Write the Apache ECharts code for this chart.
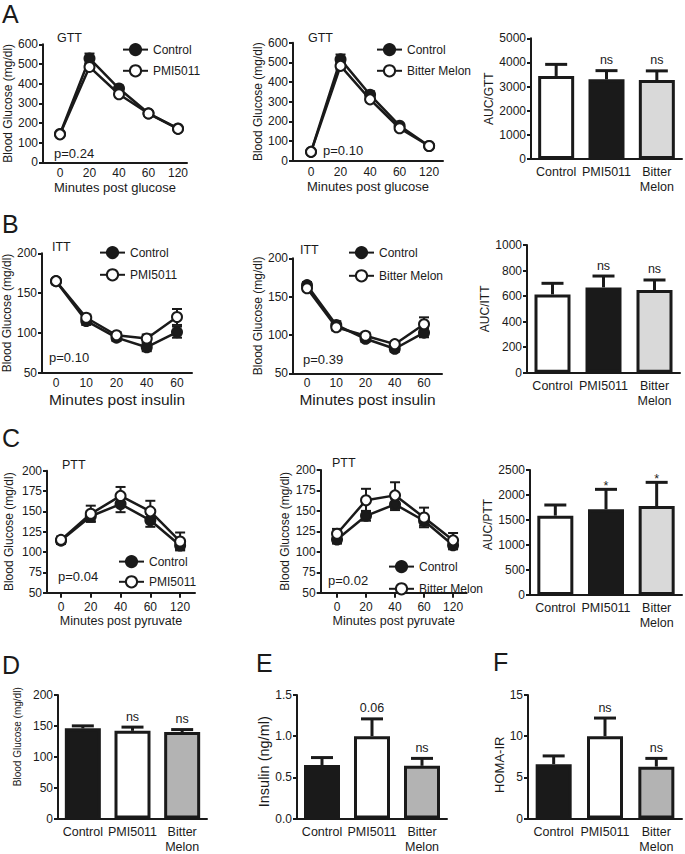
<!DOCTYPE html>
<html><head><meta charset="utf-8">
<script src="https://cdn.jsdelivr.net/npm/echarts@6/dist/echarts.min.js"></script>
<style>html,body{margin:0;padding:0;background:#fff}#c{width:685px;height:854px}</style>
</head><body><div id="c"></div>
<script>
const FONT = '"Liberation Sans", Arial, Helvetica, sans-serif';
const INK = '#1a1a1a';

// ---------------- data ----------------
const gttMinutes = ['0', '20', '40', '60', '120'];
const ittMinutes = ['0', '10', '20', '40', '60'];
const pttMinutes = ['0', '20', '40', '60', '120'];
const groupLabels = ['Control', 'PMI5011', 'Bitter\nMelon'];

const gttControlA = [144, 528, 375, 249, 172];
const gttControlAErr = [8, 25, 15, 8, 8];
const gttPmi = [142, 485, 346, 248, 170];
const gttPmiErr = [8, 18, 12, 8, 8];
const gttControlB = [45, 515, 335, 178, 75];
const gttControlBErr = [8, 25, 18, 10, 8];
const gttBitter = [45, 482, 312, 165, 75];
const gttBitterErr = [8, 18, 12, 8, 8];

const ittControlA = [165, 115, 94, 82, 101];
const ittControlAErr = [3, 5, 4, 5, 7];
const ittPmi = [165, 119, 97, 93, 120];
const ittPmiErr = [3, 4, 4, 5, 10];
const ittControlB = [165, 113, 95, 82, 103];
const ittControlBErr = [4, 5, 4, 4, 6];
const ittBitter = [161, 110, 99, 88, 114];
const ittBitterErr = [3, 4, 4, 3, 9];

const pttControlA = [114, 144, 159, 139, 108];
const pttControlAErr = [4, 6, 10, 8, 5];
const pttPmi = [115, 147, 169, 150, 113];
const pttPmiErr = [4, 10, 11, 13, 11];
const pttControlB = [115, 144, 158, 138, 108];
const pttControlBErr = [5, 6, 7, 6, 5];
const pttBitter = [122, 163, 169, 142, 114];
const pttBitterErr = [6, 14, 16, 12, 9];

const aucGtt = [3440, 3300, 3270];
const aucGttErr = [480, 360, 380];
const aucGttSig = ['', 'ns', 'ns'];
const aucItt = [613, 668, 647];
const aucIttErr = [87, 89, 79];
const aucIttSig = ['', 'ns', 'ns'];
const aucPtt = [1587, 1713, 1780];
const aucPttErr = [213, 400, 473];
const aucPttSig = ['', '*', '*'];
const fastingGlucose = [146, 142, 140];
const fastingGlucoseErr = [4, 6, 4];
const fastingGlucoseSig = ['', 'ns', 'ns'];
const insulin = [0.65, 1.0, 0.64];
const insulinErr = [0.09, 0.21, 0.09];
const insulinSig = ['', '0.06', 'ns'];
const homaIR = [6.6, 10.0, 6.3];
const homaIRErr = [1.0, 2.2, 1.0];
const homaIRSig = ['', 'ns', 'ns'];

const panelLetters = ['A', 'B', 'C', 'D', 'E', 'F'];
const testTitles = ['GTT', 'GTT', 'ITT', 'ITT', 'PTT', 'PTT'];
const pValues = ['p=0.24', 'p=0.10', 'p=0.10', 'p=0.39', 'p=0.04', 'p=0.02'];

// ---------------- layout ----------------
const letterPos = [[2, 14], [2, 224], [2, 438], [2, 665], [256, 663], [493, 662]];
const titlePos = [[57, 38], [308, 38], [52, 247], [300, 250], [62, 465], [332, 463]];
const pPos = [[54, 153], [323, 150], [49, 357], [303, 359], [58, 576], [328, 580]];

const fillsLight = ['#ffffff', INK, '#d9d9d9'];
const fillsDark = [INK, '#ffffff', '#b3b3b3'];

const linePanels = [
  {grid: [43, 44.3, 144, 118], xMin: -0.576, xMax: 4.305, cats: gttMinutes, yMin: 0, yMax: 600, yInt: 100,
   yName: 'Blood Glucose (mg/dl)', yGap: 29.5, xName: 'Minutes post glucose', xNameSize: 13, xGap: 18, xLabelMargin: 4, xTicks: false,
   ctrl: gttControlA, ctrlErr: gttControlAErr, trt: gttPmi, trtErr: gttPmiErr, trtName: 'PMI5011', legend: [122, 43, 8]},
  {grid: [293, 42.7, 150, 118], xMin: -0.61, xMax: 4.47, cats: gttMinutes, yMin: 0, yMax: 600, yInt: 100,
   yName: 'Blood Glucose (mg/dl)', yGap: 24.5, xName: 'Minutes post glucose', xNameSize: 13, xGap: 19.5, xLabelMargin: 4, xTicks: false,
   ctrl: gttControlB, ctrlErr: gttControlBErr, trt: gttBitter, trtErr: gttBitterErr, trtName: 'Bitter Melon', legend: [376, 43, 8]},
  {grid: [42, 253.3, 150, 119.4], xMin: -0.463, xMax: 4.496, cats: ittMinutes, yMin: 50, yMax: 200, yInt: 50,
   yName: 'Blood Glucose (mg/dl)', yGap: 28.5, xName: 'Minutes post insulin', xNameSize: 15.5, xGap: 19, xLabelMargin: 3, xTicks: false,
   ctrl: ittControlA, ctrlErr: ittControlAErr, trt: ittPmi, trtErr: ittPmiErr, trtName: 'PMI5011', legend: [99, 246, 9]},
  {grid: [293, 258.3, 149, 115], xMin: -0.479, xMax: 4.615, cats: ittMinutes, yMin: 50, yMax: 200, yInt: 50,
   yName: 'Blood Glucose (mg/dl)', yGap: 27.5, xName: 'Minutes post insulin', xNameSize: 15.5, xGap: 18.5, xLabelMargin: 3, xTicks: false,
   ctrl: ittControlB, ctrlErr: ittControlBErr, trt: ittBitter, trtErr: ittBitterErr, trtName: 'Bitter Melon', legend: [348, 246, 10]},
  {grid: [47, 470.7, 148, 122], xMin: -0.47, xMax: 4.5, cats: pttMinutes, yMin: 50, yMax: 200, yInt: 25,
   yName: 'Blood Glucose (mg/dl)', yGap: 32.5, xName: 'Minutes post pyruvate', xNameSize: 12.5, xGap: 22, xLabelMargin: 7, xTicks: true,
   ctrl: pttControlA, ctrlErr: pttControlAErr, trt: pttPmi, trtErr: pttPmiErr, trtName: 'PMI5011', legend: [118, 555, 7]},
  {grid: [320.7, 470, 146, 122.7], xMin: -0.562, xMax: 4.47, cats: pttMinutes, yMin: 50, yMax: 200, yInt: 25,
   yName: 'Blood Glucose (mg/dl)', yGap: 30, xName: 'Minutes post pyruvate', xNameSize: 12.5, xGap: 22, xLabelMargin: 7, xTicks: true,
   ctrl: pttControlB, ctrlErr: pttControlBErr, trt: pttBitter, trtErr: pttBitterErr, trtName: 'Bitter Melon', legend: [388, 560, 9]}
];

const barPanels = [
  {grid: [531, 38.3, 151, 120.7], yMin: 0, yMax: 5000, yInt: 1000, yName: 'AUC/GTT', yNameSize: 12, yGap: 34.5, namePad: 0,
   values: aucGtt, err: aucGttErr, sig: aucGttSig, fills: fillsLight},
  {grid: [527, 245, 153, 127.7], yMin: 0, yMax: 1000, yInt: 200, yName: 'AUC/ITT', yNameSize: 12, yGap: 30.5, namePad: 0,
   values: aucItt, err: aucIttErr, sig: aucIttSig, fills: fillsLight},
  {grid: [530, 470, 152, 125], yMin: 0, yMax: 2500, yInt: 500, yName: 'AUC/PTT', yNameSize: 12, yGap: 36.5, namePad: 16,
   values: aucPtt, err: aucPttErr, sig: aucPttSig, fills: fillsLight},
  {grid: [58, 695, 149, 126], yMin: 0, yMax: 200, yInt: 50, yName: 'Blood Glucose (mg/dl)', yNameSize: 10, yGap: 35.5, namePad: 40,
   values: fastingGlucose, err: fastingGlucoseErr, sig: fastingGlucoseSig, fills: fillsDark},
  {grid: [297, 695, 150, 126], yMin: 0, yMax: 1.5, yInt: 0.5, yName: 'Insulin (ng/ml)', yNameSize: 14.5, yGap: 22, namePad: -10, fixed: 1,
   values: insulin, err: insulinErr, sig: insulinSig, fills: fillsDark},
  {grid: [528, 695, 154, 127.7], yMin: 0, yMax: 15, yInt: 5, yName: 'HOMA-IR', yNameSize: 13, yGap: 18, namePad: -16,
   values: homaIR, err: homaIRErr, sig: homaIRSig, fills: fillsDark}
];

// ---------------- builders ----------------
const grids = [], xAxes = [], yAxes = [], series = [], legends = [], elements = [];

function lineStyleInk(w) { return {color: INK, width: w}; }

function yAxisCfg(k, p, nameSize, fmt, namePad) {
  const pad = namePad > 0 ? [0, 0, 0, namePad] : (namePad < 0 ? [0, -namePad, 0, 0] : 0);
  return {
    gridIndex: k, type: 'value', min: p.yMin, max: p.yMax, interval: p.yInt,
    name: p.yName, nameLocation: 'middle', nameRotate: 90, nameGap: p.yGap,
    nameTextStyle: {fontSize: nameSize, color: INK, fontFamily: FONT, padding: pad},
    axisLine: {show: true, onZero: false, lineStyle: lineStyleInk(2)},
    axisTick: {show: true, inside: false, length: 4, lineStyle: lineStyleInk(2)},
    axisLabel: {fontSize: 12, color: INK, fontFamily: FONT, margin: 5, formatter: fmt || (v => String(v))},
    splitLine: {show: false}
  };
}

function lineErr(params, api) {
  const x = api.value(0), v = api.value(1), e = api.value(2);
  const t = api.coord([x, v + e]), b = api.coord([x, v - e]);
  const w = 5;
  const st = () => ({stroke: INK, lineWidth: 2});
  return {type: 'group', children: [
    {type: 'line', shape: {x1: t[0], y1: t[1], x2: b[0], y2: b[1]}, style: st()},
    {type: 'line', shape: {x1: t[0] - w, y1: t[1], x2: t[0] + w, y2: t[1]}, style: st()},
    {type: 'line', shape: {x1: b[0] - w, y1: b[1], x2: b[0] + w, y2: b[1]}, style: st()}
  ]};
}

function makeBarErr(sig) {
  return function (params, api) {
    const x = api.value(0), v = api.value(1), e = api.value(2);
    const t = api.coord([x, v + e]), b = api.coord([x, v]);
    const w = 11;
    const children = [
      {type: 'line', shape: {x1: t[0], y1: t[1], x2: b[0], y2: b[1]}, style: {stroke: INK, lineWidth: 3}},
      {type: 'line', shape: {x1: t[0] - w, y1: t[1], x2: t[0] + w, y2: t[1]}, style: {stroke: INK, lineWidth: 3}}
    ];
    const s = sig[params.dataIndex];
    if (s) {
      children.push({type: 'text', x: t[0], y: t[1] + (s === '*' ? 3 : -4),
        style: {text: s, fill: INK, font: '12.5px ' + FONT, textAlign: 'center', textVerticalAlign: 'bottom'}});
    }
    return {type: 'group', children};
  };
}

linePanels.forEach(p => {
  const k = grids.length;
  grids.push({left: p.grid[0], top: p.grid[1], width: p.grid[2], height: p.grid[3]});
  const idx = p.cats.map((c, i) => i);
  xAxes.push({
    gridIndex: k, type: 'value', min: p.xMin, max: p.xMax,
    name: p.xName, nameLocation: 'middle', nameGap: p.xGap,
    nameTextStyle: {fontSize: p.xNameSize, color: INK, fontFamily: FONT},
    axisLine: {show: true, onZero: false, lineStyle: lineStyleInk(2)},
    axisTick: {show: p.xTicks, customValues: idx, length: 5, lineStyle: lineStyleInk(2)},
    axisLabel: {customValues: idx, formatter: v => p.cats[Math.round(v)], fontSize: 12, lineHeight: 14,
      color: INK, fontFamily: FONT, margin: p.xLabelMargin},
    splitLine: {show: false}
  });
  yAxes.push(yAxisCfg(k, p, 12, null, 0));
  [[p.ctrl, p.ctrlErr, 'Control', false], [p.trt, p.trtErr, p.trtName, true]].forEach(([vals, errs, name, open]) => {
    series.push({type: 'custom', xAxisIndex: k, yAxisIndex: k, z: 2, silent: true,
      encode: {x: 0, y: 1}, data: vals.map((v, i) => [i, v, errs[i]]), renderItem: lineErr});
    series.push({type: 'line', name, xAxisIndex: k, yAxisIndex: k, z: 3,
      data: vals.map((v, i) => [i, v]), symbol: 'circle', symbolSize: 10,
      lineStyle: {color: INK, width: 2.5},
      itemStyle: {color: open ? '#ffffff' : INK, borderColor: INK, borderWidth: 2}});
  });
  legends.push({
    left: p.legend[0], top: p.legend[1], orient: 'vertical', itemWidth: 25, itemHeight: 14, itemGap: p.legend[2],
    padding: 0, selectedMode: false, data: ['Control', p.trtName],
    textStyle: {fontSize: 12, color: INK, fontFamily: FONT}
  });
});

barPanels.forEach(p => {
  const k = grids.length;
  grids.push({left: p.grid[0], top: p.grid[1], width: p.grid[2], height: p.grid[3]});
  xAxes.push({
    gridIndex: k, type: 'category', data: groupLabels,
    axisLine: {show: true, onZero: false, lineStyle: lineStyleInk(2)},
    axisTick: {show: false},
    axisLabel: {interval: 0, fontSize: 12.5, lineHeight: 15, color: INK, fontFamily: FONT, margin: 5.5},
    splitLine: {show: false}
  });
  const fmt = p.fixed ? (v => v.toFixed(p.fixed)) : null;
  yAxes.push(yAxisCfg(k, p, p.yNameSize, fmt, p.namePad));
  series.push({type: 'bar', xAxisIndex: k, yAxisIndex: k, z: 2, barWidth: 36,
    data: p.values.map((v, i) => ({value: v, itemStyle: {color: p.fills[i]}})),
    itemStyle: {borderColor: INK, borderWidth: 3}});
  series.push({type: 'custom', xAxisIndex: k, yAxisIndex: k, z: 3, silent: true,
    encode: {x: 0, y: 1}, data: p.values.map((v, i) => [i, v, p.err[i]]), renderItem: makeBarErr(p.sig)});
});

function txt(str, pos, size, align) {
  return {type: 'text', x: pos[0], y: pos[1], silent: true,
    style: {text: str, fill: INK, font: size + 'px ' + FONT, textAlign: align || 'left', textVerticalAlign: 'middle'}};
}
panelLetters.forEach((s, i) => elements.push(txt(s, letterPos[i], 25)));
testTitles.forEach((s, i) => elements.push(txt(s, titlePos[i], 12.5)));
pValues.forEach((s, i) => elements.push(txt(s, pPos[i], 13)));

const chart = echarts.init(document.getElementById('c'), null, {renderer: 'svg', width: 685, height: 854});
chart.setOption({
  animation: false,
  backgroundColor: '#ffffff',
  textStyle: {fontFamily: FONT},
  grid: grids, xAxis: xAxes, yAxis: yAxes, series, legend: legends,
  graphic: {elements}
});
</script>
</body></html>
